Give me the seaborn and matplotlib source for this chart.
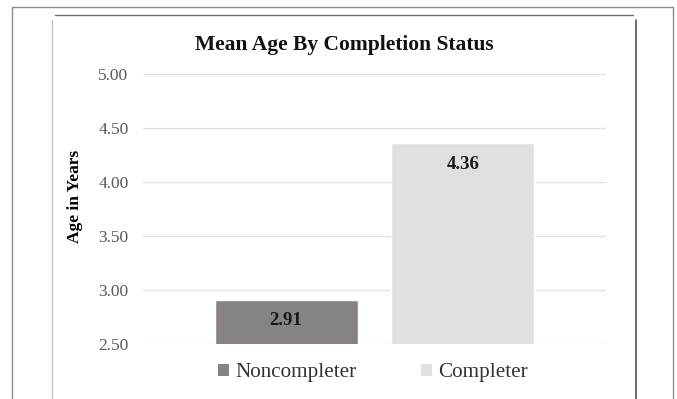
import matplotlib
matplotlib.use("Agg")
import matplotlib.pyplot as plt
from matplotlib.lines import Line2D
from matplotlib.patches import Patch
import seaborn as sns
import pandas as pd

# Chart data
categories = ["Noncompleter", "Completer"]
mean_age = [2.91, 4.36]
bar_colors = ["#878382", "#e0e0e0"]
y_ticks = [2.50, 3.00, 3.50, 4.00, 4.50, 5.00]

df = pd.DataFrame({"status": categories, "age": mean_age})

sns.set_theme(style="white")
plt.rcParams["font.family"] = ["Liberation Serif", "DejaVu Serif"]

fig = plt.figure(figsize=(6.77, 3.99), dpi=100)
ax = fig.add_axes([0.2112, 0.1378, 0.6839, 0.6767])

sns.barplot(data=df, x="status", y="age", hue="status",
            palette=dict(zip(categories, bar_colors)), width=0.81,
            legend=False, ax=ax, saturation=1)

ax.set_ylim(2.5, 5.0)
ax.set_xlim(-0.81, 1.81)
ax.set_yticks(y_ticks)
ax.set_yticklabels([f"{t:.2f}" for t in y_ticks])
ax.set_xticks([])
ax.set_xlabel("")
ax.tick_params(axis="y", length=0, pad=10.5, labelsize=12.5, labelcolor="#595959")
ax.grid(axis="y", color="#e2e2e2", linewidth=1.0)
ax.set_axisbelow(True)
for s in ax.spines.values():
    s.set_visible(False)

ax.set_ylabel("Age in Years", fontsize=12.5, fontweight="bold", color="#000000")
ax.yaxis.set_label_coords(-0.13, 0.548)

# Value labels just inside the top of each bar
for patch, val in zip(ax.patches, mean_age):
    cx = patch.get_x() + patch.get_width() / 2
    ax.annotate(f"{val:.2f}", xy=(cx, val), xytext=(0, -21),
                textcoords="offset pixels", ha="center", va="center",
                fontsize=13.5, fontweight="bold", color="#1a1a1a")

fig.text(0.508, 0.888, "Mean Age By Completion Status", ha="center", va="center",
         fontsize=15.5, fontweight="bold", color="#111111")

handles = [Patch(facecolor=c, edgecolor="none") for c in bar_colors]
fig.legend(handles, categories, loc="center", bbox_to_anchor=(0.551, 0.066),
           ncol=2, frameon=False, fontsize=15.2, labelcolor="#333333",
           handlelength=0.5, handleheight=0.5, handletextpad=0.3,
           columnspacing=3.1)

# Outer and inner frame rules
W, H = 677.0, 399.0
def fx(px):
    return px / W
def fy(py):
    return 1 - py / H

frame = [
    ((12, 12), (7, 399), "#8c8c8c", 1.0),
    ((12, 673), (7, 7), "#8c8c8c", 1.0),
    ((673, 673), (7, 399), "#8c8c8c", 1.0),
    ((55, 633), (15, 15), "#6e6e6e", 1.0),
    ((52, 52), (20, 399), "#c4c4c4", 1.0),
    ((636, 636), (20, 399), "#555555", 1.2),
]
for xs, ys, col, lw in frame:
    fig.add_artist(Line2D([fx(x) for x in xs], [fy(y) for y in ys],
                          color=col, linewidth=lw))

fig.savefig("out.png", dpi=100)
